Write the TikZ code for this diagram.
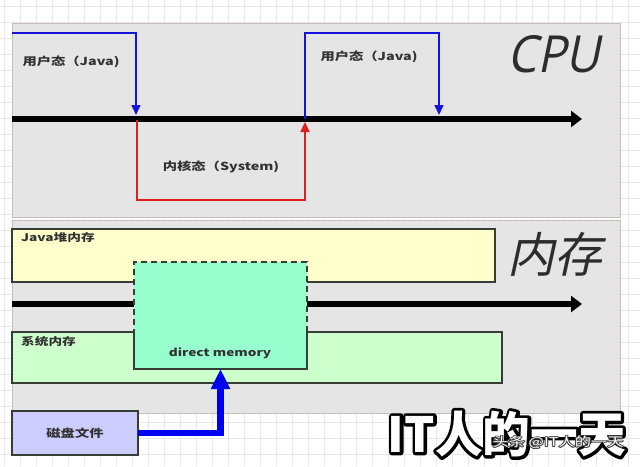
\documentclass[tikz,border=0pt]{standalone}
\usepackage{fontspec}
\setmainfont{Noto Sans CJK SC}
\newfontfamily\slantcjk[FakeSlant=0.22]{Noto Sans CJK SC}
\newfontfamily\cpufont[FakeSlant=0.22]{Open Sans}
\usetikzlibrary{arrows.meta}
\definecolor{panelgray}{RGB}{229,229,229}
\definecolor{panelline}{RGB}{200,188,188}
\definecolor{gridc}{RGB}{232,232,236}
\definecolor{boxline}{RGB}{55,60,55}
\definecolor{txt}{RGB}{50,50,50}
\definecolor{bigtxt}{RGB}{45,45,45}
\definecolor{ublue}{RGB}{20,20,220}
\definecolor{kred}{RGB}{225,30,30}
\definecolor{yel}{RGB}{255,255,204}
\definecolor{grn}{RGB}{204,255,204}
\definecolor{dmfill}{RGB}{150,255,205}
\definecolor{diskfill}{RGB}{204,204,255}
\definecolor{dblue}{RGB}{0,0,240}
\newcommand\hwide[1]{\scalebox{1.3}[1]{#1}}
\newcommand\wmtext[1]{\resizebox*{238pt}{46pt}{#1\bfseries IT人的一天}}
\newcommand\wmsmall[1]{\hwide{\fontsize{12.5}{14}\selectfont#1头条 @IT人的一天}}
\begin{document}
\begin{tikzpicture}[x=1pt,y=-1pt,
  panel/.style={draw=panelline, line width=0.6pt, fill=panelgray, anchor=north west, inner sep=0pt, outer sep=0pt},
  box/.style={draw=boxline, line width=1.2pt, anchor=north west, inner sep=0pt, outer sep=0pt},
  lbl/.style={text=txt, font=\bfseries\fontsize{11}{13}\selectfont, inner sep=0pt},
  slbl/.style={text=txt, font=\bfseries\fontsize{10.5}{12}\selectfont, inner sep=0pt, anchor=west},
  timeline/.style={line width=6pt, -{Triangle[length=11pt,width=16pt]}},
  uline/.style={draw=ublue, line width=1.6pt, -{Triangle[length=10pt,width=9pt]}, fill=none},
  kline/.style={draw=kred, line width=1.6pt, -{Triangle[length=10pt,width=9pt]}},
  diskarrow/.style={draw=dblue, line width=6.5pt, -{Triangle[length=20pt,width=18pt]}}]
\useasboundingbox (0,0) rectangle (640,466);
\fill[white] (0,0) rectangle (640,466);
\foreach \gx in {4,20,...,640} \draw[gridc, line width=0.5pt] (\gx,0) -- (\gx,466);
\foreach \gy in {6,22,...,466} \draw[gridc, line width=0.5pt] (0,\gy) -- (640,\gy);

% panels
\node[panel, minimum width=608pt, minimum height=194pt] (cpupanel) at (12,23) {};
\node[panel, minimum width=608pt, minimum height=193pt] (mempanel) at (12,220) {};

% CPU timeline
\coordinate (t1s) at (12,119);
\coordinate (t1e) at (582,119);
\draw[timeline] (t1s) -- (t1e);

\coordinate (b1s) at (12,33);
\coordinate (b1c) at (136,33);
\coordinate (b1e) at (136,115);
\draw[uline] (b1s) -- (b1c) -- (b1e);

\coordinate (r1s) at (137,120);
\coordinate (r1a) at (137,200);
\coordinate (r1b) at (305,200);
\coordinate (r1e) at (305,122);
\draw[kline] (r1s) -- (r1a) -- (r1b) -- (r1e);

\coordinate (b2s) at (305,119);
\coordinate (b2a) at (305,33);
\coordinate (b2b) at (439,33);
\coordinate (b2e) at (439,115);
\draw[uline] (b2s) -- (b2a) -- (b2b) -- (b2e);

\node[lbl] (user1) at (71,62) {\hwide{用户态（Java)}};
\node[lbl] (user2) at (369,57) {\hwide{用户态（Java)}};
\node[lbl] (kernel) at (221,167) {\hwide{内核态（System)}};
\node[anchor=north west, inner sep=0pt, text=bigtxt] (cpu) at (507,35) {\resizebox{93pt}{37pt}{\cpufont CPU}};

% memory
\node[box, fill=yel, minimum width=483pt, minimum height=53pt] (heap) at (12,229) {};
\node[slbl] (heaplbl) at (21,238) {\hwide{Java堆内存}};
\node[box, fill=grn, minimum width=490pt, minimum height=51pt] (sys) at (12,332) {};
\node[slbl] (syslbl) at (21,341) {\hwide{系统内存}};

\coordinate (t2s) at (12,304);
\coordinate (t2e) at (582,304);
\draw[timeline] (t2s) -- (t2e);

\node[box, fill=dmfill, dash pattern=on 6pt off 4pt, minimum width=173pt, minimum height=107pt] (dm) at (134,262) {};
\coordinate (dmL) at (134,332);
\coordinate (dmR) at (307,332);
\draw[boxline, line width=1.2pt] (dmL) |- (dm.south) -| (dmR);
\node[lbl, font=\bfseries\fontsize{10.5}{12}\selectfont] (dmlbl) at (220,353) {\hwide{direct memory}};

\node[anchor=north west, inner sep=0pt, text=bigtxt] (mem) at (507,232) {\resizebox*{95pt}{44pt}{\slantcjk 内存}};

\node[box, fill=diskfill, minimum width=126pt, minimum height=44pt] (disk) at (12,411) {};
\node[lbl] (disklbl) at (disk.center) {\hwide{磁盘文件}};
\draw[diskarrow] (disk.east) -| (dm.south);

% watermark: dark stroked copy under a white copy
\node[text=black, inner sep=0pt] (wmo) at (507,434) {\wmtext{\special{pdf:literal direct 2 Tr 0 G 1.25 w 1 j}}};
\node[text=white, inner sep=0pt] (wm) at (507,434) {\wmtext{}};
\node[text=black!75, inner sep=0pt] (wso) at (558,442) {\wmsmall{\special{pdf:literal direct 2 Tr 0.25 G 1.6 w 1 j}}};
\node[text=white, inner sep=0pt] (ws) at (558,442) {\wmsmall{}};
\end{tikzpicture}
\end{document}
